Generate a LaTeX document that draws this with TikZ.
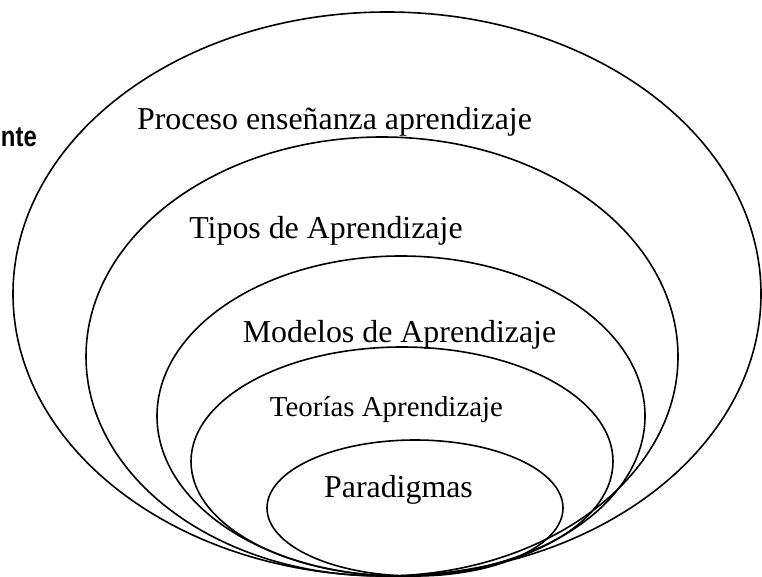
\documentclass[tikz,border=0pt]{standalone}
\usepackage{fontspec}
\setmainfont{Liberation Serif}
\setsansfont{Liberation Sans}
\begin{document}
\begin{tikzpicture}[
			x=1bp, y=-1bp,
			ring/.style={line width=1.6bp},
			layer/.style={inner sep=0pt, anchor=base, font=\fontsize{32}{38}\selectfont},
			small layer/.style={layer, font=\fontsize{29}{34}\selectfont}
		]
		\useasboundingbox (0,0) rectangle (762,577);
		% nested levels, all touching at the bottom
		\draw[ring] (387,294) ellipse (374 and 282);
		\draw[ring] (382,356.5) ellipse (296 and 219.5);
		\draw[ring] (401,416) ellipse (244 and 160);
		\draw[ring] (402,461.5) ellipse (211 and 114.5);
		\draw[ring] (415,508) ellipse (148 and 68);
		% labels
		\node[layer] (proceso) at (334.5,130) {Proceso enseñanza aprendizaje};
		\node[layer] (tipos) at (326,238) {Tipos de Aprendizaje};
		\node[layer] (modelos) at (399.5,342) {Modelos de Aprendizaje};
		\node[small layer] (teorias) at (386.5,416) {Teorías Aprendizaje};
		\node[layer] (paradigmas) at (398.5,497) {Paradigmas};
		\node[inner sep=0pt, anchor=base east, font=\sffamily\bfseries\fontsize{24}{28}\selectfont] (cortado) at (37,147) {\scalebox{1}[1.2]{nte}};
	\end{tikzpicture}
\end{document}
